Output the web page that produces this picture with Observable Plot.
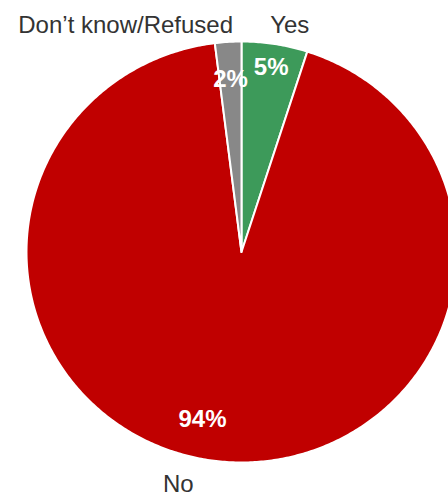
<!DOCTYPE html>
<html>
<head>
<meta charset="utf-8">
<script src="https://cdn.jsdelivr.net/npm/d3@7"></script>
<script src="https://cdn.jsdelivr.net/npm/@observablehq/plot@0.6"></script>
<style>
  html, body { margin: 0; padding: 0; background: #fff; }
  #chart { width: 448px; height: 498px; overflow: hidden; }
</style>
</head>
<body>
<div id="chart"></div>
<script>
// Data
const categories = ["Yes", "No", "Don’t know/Refused"];
const values = [5, 94, 2];
const valueLabels = ["5%", "94%", "2%"];
const colors = ["#3d9a5a", "#c00000", "#888888"];

// Label placement (styles, not data)
const innerR = [0.89, 0.80, 0.82];
const innerDx = [0, -23, 0];
const outerR = [1.09, 1.11, 1.08];
const outerDx = [12, -41, 6];
const outerAnchor = ["middle", "middle", "end"];

const arcs = d3.pie().sort(null).value(d => d)(values);

// Build slice polygons in unit coordinates
const pts = [];
arcs.forEach((a, i) => {
  const cat = categories[i];
  pts.push({cat, x: 0, y: 0});
  const n = Math.max(8, Math.ceil((a.endAngle - a.startAngle) / 0.01));
  for (let k = 0; k <= n; k++) {
    const t = a.startAngle + (a.endAngle - a.startAngle) * k / n;
    pts.push({cat, x: Math.sin(t), y: Math.cos(t)});
  }
  pts.push({cat, x: 0, y: 0});
});

const mid = a => (a.startAngle + a.endAngle) / 2;
const inner = arcs.map((a, i) => ({
  label: valueLabels[i], x: innerR[i] * Math.sin(mid(a)), y: innerR[i] * Math.cos(mid(a)), i
}));
const outer = arcs.map((a, i) => ({
  label: categories[i], x: outerR[i] * Math.sin(mid(a)), y: outerR[i] * Math.cos(mid(a)), i
}));

const font = "'Liberation Sans', Arial, sans-serif";

const marks = [
  Plot.line(pts, {
    x: "x", y: "y", z: "cat", fill: "cat",
    stroke: "white", strokeWidth: 2, strokeLinejoin: "round", curve: "linear"
  })
];
inner.forEach(d => {
  marks.push(Plot.text([d], {
    x: "x", y: "y", text: "label", fill: "white", fontWeight: "bold",
    fontSize: 24, dx: innerDx[d.i], textAnchor: "middle", lineAnchor: "middle",
    fontFamily: font
  }));
});
outer.forEach(d => {
  marks.push(Plot.text([d], {
    x: "x", y: "y", text: "label", fill: "#333333",
    fontSize: 24, dx: outerDx[d.i], textAnchor: outerAnchor[d.i], lineAnchor: "middle",
    fontFamily: font
  }));
});

const chart = Plot.plot({
  width: 448,
  height: 498,
  margin: 0,
  style: { background: "white", overflow: "visible" },
  x: { domain: [-1, 1], range: [26, 456], axis: null },
  y: { domain: [-1, 1], range: [462, 41], axis: null },
  color: { domain: categories, range: colors },
  marks
});
document.getElementById("chart").appendChild(chart);
</script>
</body>
</html>
